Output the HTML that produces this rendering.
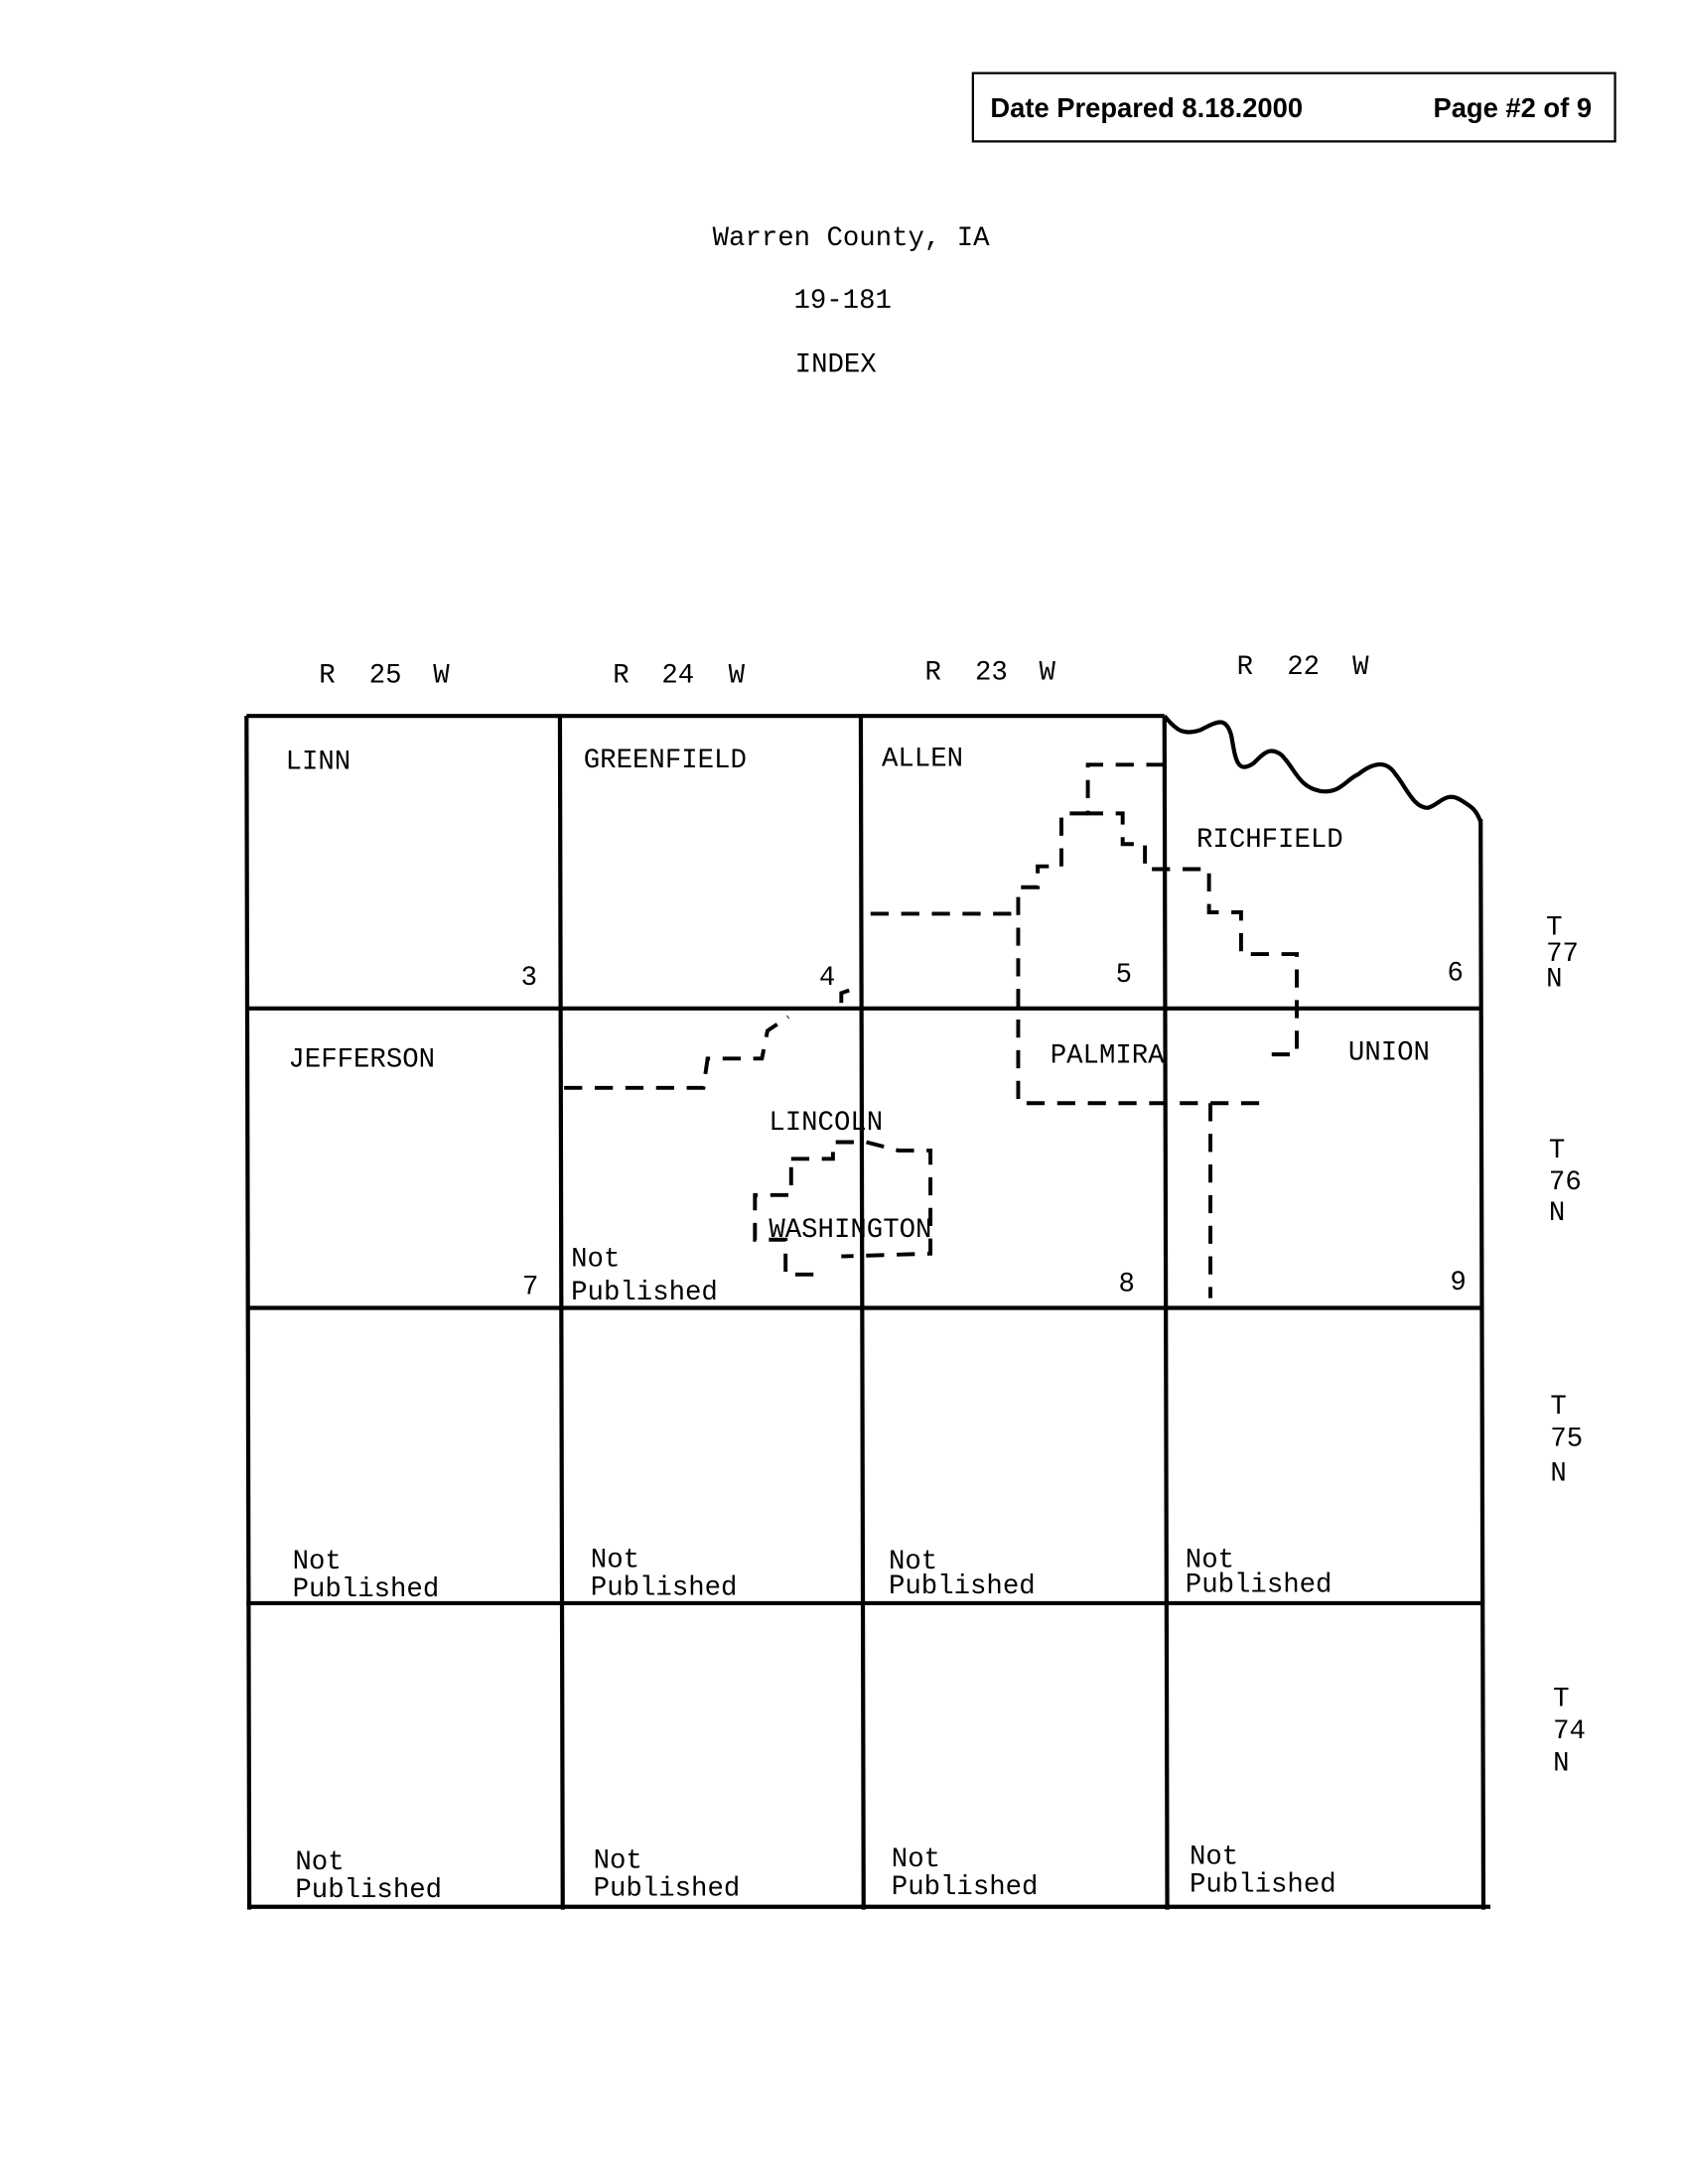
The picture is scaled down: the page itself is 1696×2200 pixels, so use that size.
<!DOCTYPE html>
<html><head><meta charset="utf-8"><style>
html,body{margin:0;padding:0;background:#fff;}
svg{display:block}
.m{font-family:"Liberation Mono","DejaVu Sans Mono",monospace;font-size:19.5px;fill:#000}
.b{font-family:"Liberation Sans",Arial,sans-serif;font-size:19.5px;font-weight:bold;fill:#000}
.g{stroke:#000;stroke-width:3;fill:none}
.d{stroke:#000;stroke-width:2.8;fill:none;stroke-dasharray:13 9}
</style></head><body>
<svg width="1696" height="2200" viewBox="0 0 1209 1568" preserveAspectRatio="none" xmlns="http://www.w3.org/2000/svg">
<rect x="698.5" y="52.5" width="461" height="49" fill="none" stroke="#000" stroke-width="1.6"/>
<text class="b" x="711" y="84">Date Prepared 8.18.2000</text>
<text class="b" x="1029" y="84">Page #2 of 9</text>
<text class="m" x="611" y="176" text-anchor="middle">Warren County, IA</text>
<text class="m" x="605" y="221" text-anchor="middle">19-181</text>
<text class="m" x="600" y="267" text-anchor="middle">INDEX</text>

<g class="m">
<text x="229" y="490">R</text><text x="265" y="490">25</text><text x="311" y="490">W</text>
<text x="440" y="490">R</text><text x="475" y="490">24</text><text x="523" y="490">W</text>
<text x="664" y="488">R</text><text x="700" y="488">23</text><text x="746" y="488">W</text>
<text x="888" y="484">R</text><text x="924" y="484">22</text><text x="971" y="484">W</text>
</g>

<g class="m">
<text x="1110" y="671">T</text><text x="1110" y="690">77</text><text x="1110" y="708">N</text>
<text x="1112" y="831">T</text><text x="1112" y="854">76</text><text x="1112" y="876">N</text>
<text x="1113" y="1015">T</text><text x="1113" y="1038">75</text><text x="1113" y="1063">N</text>
<text x="1115" y="1225">T</text><text x="1115" y="1248">74</text><text x="1115" y="1271">N</text>
</g>

<g class="g">
<polyline points="177,514 836,514"/>
<line x1="177" y1="514" x2="179" y2="1371"/>
<line x1="402" y1="514" x2="404" y2="1371"/>
<line x1="618" y1="514" x2="620" y2="1371"/>
<line x1="836" y1="514" x2="838" y2="1371"/>
<line x1="1063" y1="588" x2="1065" y2="1371"/>
<line x1="177" y1="724" x2="1063" y2="724"/>
<line x1="177" y1="939" x2="1063" y2="939"/>
<line x1="177" y1="1151" x2="1063" y2="1151"/>
<line x1="179" y1="1369" x2="1070" y2="1369"/>
<path d="M836,514 C845,525 850,528 862,524 C874,518 880,514 884,528 C887,545 888,556 900,548 C908,540 912,536 920,542 C930,552 932,565 948,568 C962,570 966,560 975,556 C985,548 995,545 1002,556 C1010,566 1015,580 1025,580 C1033,578 1038,568 1048,574 C1058,580 1060,582 1063,590"/>
</g>

<g class="d">
<polyline points="836,549 781,549 781,584 806,584 806,606 822,606 822,624 868,624 868,655 891,655 891,685 931,685 931,757 912,757"/>
<polyline points="781,584 762,584 762,622 745,622 745,637 731,637 731,792 912,792"/>
<polyline points="625,656 731,656"/>
<polyline points="869,792 869,932"/>
<polyline points="405,781 505,781 508,760 547,760 551,740 566,730"/>
<polyline points="604,720 604,713 618,708"/>
<polyline points="568,832 598,832 598,820 622,820 645,826 668,826 668,900 604,902"/>
<polyline points="568,838 568,858 542,858 542,890 564,890 564,915 588,915"/>
</g>

<g class="m">
<text x="205" y="552">LINN</text>
<text x="419" y="551">GREENFIELD</text>
<text x="633" y="550">ALLEN</text>
<text x="859" y="608">RICHFIELD</text>
<text x="207" y="766">JEFFERSON</text>
<text x="754" y="763">PALMIRA</text>
<text x="968" y="761">UNION</text>
<text x="552" y="811">LINCOLN</text>
<text x="552" y="888">WASHINGTON</text>
<text x="374" y="707">3</text>
<text x="588" y="707">4</text>
<text x="801" y="705">5</text>
<text x="1039" y="704">6</text>
<text x="375" y="929">7</text>
<text x="803" y="927">8</text>
<text x="1041" y="926">9</text>
<text x="410" y="909">Not</text><text x="410" y="933">Published</text>
<text x="210" y="1126">Not</text><text x="210" y="1146">Published</text>
<text x="424" y="1125">Not</text><text x="424" y="1145">Published</text>
<text x="638" y="1126">Not</text><text x="638" y="1144">Published</text>
<text x="851" y="1125">Not</text><text x="851" y="1143">Published</text>
<text x="212" y="1342">Not</text><text x="212" y="1362">Published</text>
<text x="426" y="1341">Not</text><text x="426" y="1361">Published</text>
<text x="640" y="1340">Not</text><text x="640" y="1360">Published</text>
<text x="854" y="1338">Not</text><text x="854" y="1358">Published</text>
</g>
</svg>
</body></html>
